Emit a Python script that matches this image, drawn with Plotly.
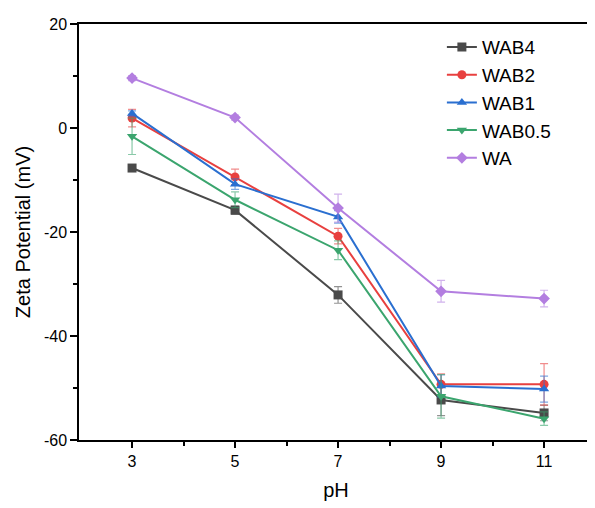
import plotly.graph_objects as go

# ------------------------------- DATA -------------------------------- #
ph = [3, 5, 7, 9, 11]

names = ['WAB4', 'WAB2', 'WAB1', 'WAB0.5', 'WA']
zeta_wab4 = [-7.7, -15.8, -32.1, -52.3, -54.8]
zeta_wab2 = [1.9, -9.4, -20.8, -49.3, -49.3]
zeta_wab1 = [2.8, -10.8, -17.1, -49.6, -50.2]
zeta_wab05 = [-1.6, -13.8, -23.5, -51.6, -55.9]
zeta_wa = [9.6, 2.0, -15.4, -31.4, -32.8]

err_wab4 = [0.6, 0.8, 1.6, 3.0, 1.5]
err_wab2 = [1.7, 1.5, 1.5, 2.0, 4.0]
err_wab1 = [0.5, 1.0, 1.2, 2.1, 2.5]
err_wab05 = [3.5, 1.5, 1.8, 4.2, 1.3]
err_wa = [0.5, 0.5, 2.7, 2.1, 1.6]

yticks = [20, 0, -20, -40, -60]
ytick_labels = ['20', '0', '-20', '-40', '-60']

# ------------------------------ STYLE -------------------------------- #
series = [
    (zeta_wab4, err_wab4, '74,74,74', 'square'),
    (zeta_wab2, err_wab2, '232,64,63', 'circle'),
    (zeta_wab1, err_wab1, '42,111,208', 'triangle-up'),
    (zeta_wab05, err_wab05, '59,165,110', 'triangle-down'),
    (zeta_wa, err_wa, '179,126,224', 'diamond'),
]

fig = go.Figure()
for name, (vals, errs, rgb, sym) in zip(names, series):
    col = 'rgb(%s)' % rgb
    fig.add_trace(go.Scatter(
        x=ph, y=vals, name=name, mode='lines+markers',
        line=dict(color=col, width=2),
        marker=dict(symbol=sym, size=9, color=col),
        error_y=dict(type='data', array=errs, visible=True,
                     color='rgba(%s,0.6)' % rgb, thickness=1.2, width=4),
    ))

# page body has an 8px margin, so the figure is a bit smaller than the window
fig.update_layout(
    width=587, height=500,
    margin=dict(l=71, r=2, t=16, b=68),
    paper_bgcolor='white', plot_bgcolor='white',
    font=dict(family='Liberation Sans, Arial, sans-serif', color='black', size=16),
    showlegend=True,
    legend=dict(x=0.706, y=0.99, xanchor='left', yanchor='top',
                font=dict(size=19), bgcolor='rgba(0,0,0,0)',
                tracegroupgap=0),
)

fig.update_xaxes(
    range=[1.97, 11.95], tickvals=ph, showgrid=False, zeroline=False,
    automargin=False,
    showline=True, linecolor='black', linewidth=1.5, mirror=True,
    ticks='outside', ticklen=6, tickwidth=1.5, tickcolor='black',
    minor=dict(tickvals=[4, 6, 8, 10], ticks='outside', ticklen=4,
               tickwidth=1.5, tickcolor='black'),
    title=dict(text='pH', font=dict(size=20), standoff=14),
    tickfont=dict(size=16),
)
fig.update_yaxes(
    range=[-60, 20], tickvals=yticks, ticktext=ytick_labels,
    showgrid=False, zeroline=False, automargin=False,
    showline=True, linecolor='black', linewidth=1.5,
    ticks='outside', ticklen=7, tickwidth=1.5, tickcolor='black',
    minor=dict(tickvals=[10, -10, -30, -50], ticks='outside', ticklen=4,
               tickwidth=1.5, tickcolor='black'),
    title=dict(text='Zeta Potential (mV)', font=dict(size=20), standoff=8),
    tickfont=dict(size=16),
)

# light right frame line
fig.add_shape(type='line', xref='paper', yref='paper', x0=1, x1=1, y0=0, y1=1,
              line=dict(color='#bbbbbb', width=1))

fig.write_html('out.html')
